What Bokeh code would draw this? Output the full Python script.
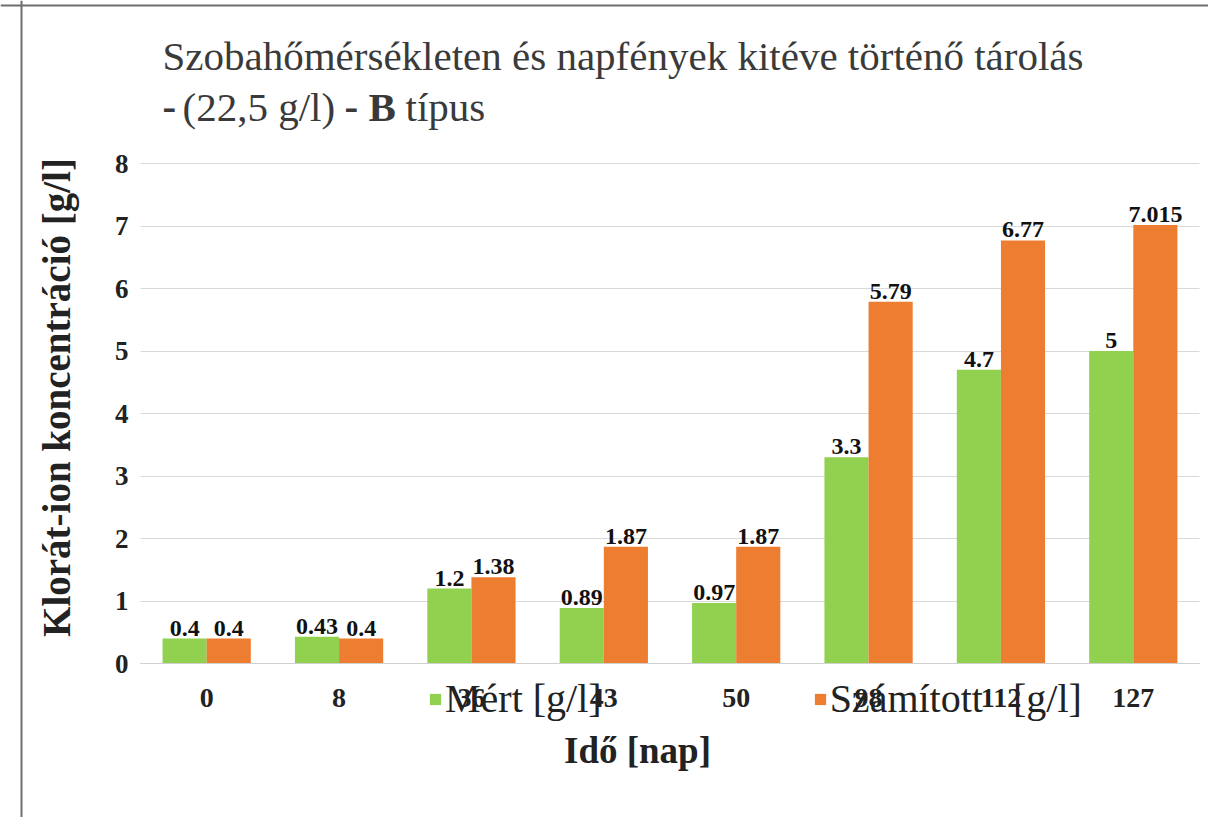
import math
from bokeh.plotting import figure
from bokeh.models import Range1d, ColumnDataSource, Label, Legend, LegendItem, FixedTicker, Span
from bokeh.transform import dodge
from bokeh.embed import file_html
from bokeh.resources import INLINE
from bokeh.core.properties import value

# ---- data ----
days = ["0", "8", "36", "43", "50", "98", "112", "127"]
mert = [0.4, 0.43, 1.2, 0.89, 0.97, 3.3, 4.7, 5.0]
szamitott = [0.4, 0.4, 1.38, 1.87, 1.87, 5.79, 6.77, 7.015]
mert_labels = ["0.4", "0.43", "1.2", "0.89", "0.97", "3.3", "4.7", "5"]
szamitott_labels = ["0.4", "0.4", "1.38", "1.87", "1.87", "5.79", "6.77", "7.015"]
y_ticks = [0, 1, 2, 3, 4, 5, 6, 7, 8]

title_line1 = "Szobahőmérsékleten és napfények kitéve történő tárolás"
series_names = ["Mért [g/l]", "Számított   [g/l]"]
x_title = "Idő [nap]"
y_title = "Klorát-ion koncentráció [g/l]"

GREEN = "#92D050"
ORANGE = "#ED7D31"
SERIF = "Liberation Serif"
TXT = "#222222"

# ---- layout geometry (picture pixels) ----
W, H = 1208, 817
OFF = 0                          # canvas origin in the picture
PLOT_L, PLOT_R = 140, 1199       # left edge of first / right edge of last category
Y0_PAGE, Y8_PAGE = 663, 163      # picture y of value 0 and value 8
n = len(days)
px_x = (PLOT_R - PLOT_L) / n
px_y = (Y0_PAGE - Y8_PAGE) / 8
x_lo = -0.5 - (PLOT_L - OFF) / px_x
x_hi = (n - 0.5) + (OFF + W - PLOT_R) / px_x
y_hi = (Y0_PAGE - OFF) / px_y
y_lo = (Y0_PAGE - (OFF + H)) / px_y

def sx(page_x):
    return page_x - OFF

def sy(page_y):
    return (OFF + H) - page_y

idx = list(range(n))
src = ColumnDataSource(dict(idx=idx, mert=mert, szam=szamitott,
                            mert_lbl=mert_labels, szam_lbl=szamitott_labels))

p = figure(width=W, height=H,
           x_range=Range1d(x_lo, x_hi), y_range=Range1d(y_lo, y_hi),
           output_backend="svg", toolbar_location=None,
           min_border_left=0, min_border_right=0,
           min_border_top=0, min_border_bottom=0)
p.outline_line_color = None
p.background_fill_color = "white"
p.border_fill_color = "white"

# horizontal grid lines, limited to the category area
p.xgrid.grid_line_color = None
p.ygrid.ticker = FixedTicker(ticks=y_ticks)
p.ygrid.grid_line_color = "#d9d9d9"
try:
    p.ygrid.cross_bounds = (-0.5, n - 0.5)
except AttributeError:
    p.ygrid.grid_line_color = None
    p.segment(x0=[-0.5] * len(y_ticks), x1=[n - 0.5] * len(y_ticks),
              y0=y_ticks, y1=y_ticks, line_color="#d9d9d9", line_width=1)

r1 = p.vbar(x=dodge("idx", -1/6), top="mert", width=1/3,
            source=src, fill_color=GREEN, line_color=None)
r2 = p.vbar(x=dodge("idx", 1/6), top="szam", width=1/3,
            source=src, fill_color=ORANGE, line_color=None)

for col, lbl, off in [("mert", "mert_lbl", -1/6), ("szam", "szam_lbl", 1/6)]:
    p.text(x=dodge("idx", off), y=col, text=lbl, source=src,
           y_offset=-3, text_align="center", text_baseline="bottom",
           text_font=value(SERIF), text_font_style="bold",
           text_font_size="24px", text_color="#111111")

# y axis, pinned to the left edge of the category area
p.yaxis.fixed_location = -0.5
p.yaxis.ticker = FixedTicker(ticks=y_ticks)
p.yaxis.bounds = (0, 8)
p.yaxis.axis_line_color = None
p.yaxis.major_tick_line_color = None
p.yaxis.minor_tick_line_color = None
p.yaxis.major_label_standoff = 6
p.yaxis.major_label_text_font = SERIF
p.yaxis.major_label_text_font_style = "bold"
p.yaxis.major_label_text_font_size = "27px"
p.yaxis.major_label_text_color = TXT

# x axis, pinned to y = 0
p.xaxis.fixed_location = 0
p.xaxis.ticker = FixedTicker(ticks=idx)
p.xaxis.major_label_overrides = {i: d for i, d in zip(idx, days)}
p.xaxis.bounds = (-0.5, n - 0.5)
p.xaxis.axis_line_color = "#d0d0d0"
p.xaxis.axis_line_width = 1
p.xaxis.major_tick_line_color = None
p.xaxis.minor_tick_line_color = None
p.xaxis.major_label_standoff = 19
p.xaxis.major_label_text_font = SERIF
p.xaxis.major_label_text_font_style = "bold"
p.xaxis.major_label_text_font_size = "28px"
p.xaxis.major_label_text_color = TXT

# axis titles
p.add_layout(Label(x=sx(637), y=sy(750), x_units="screen", y_units="screen",
                   text=x_title, text_font=SERIF, text_font_size="37px",
                   text_font_style="bold", text_color=TXT,
                   text_align="center", text_baseline="middle"))
p.add_layout(Label(x=sx(56), y=sy(397), x_units="screen", y_units="screen",
                   text=y_title, text_font=SERIF, text_font_size="39px",
                   text_font_style="bold", text_color=TXT, angle=math.pi / 2,
                   text_align="center", text_baseline="middle"))

# legend, overlapping the tick labels as in the original
legend = Legend(items=[LegendItem(label=series_names[0], renderers=[r1]),
                       LegendItem(label=series_names[1], renderers=[r2])],
                orientation="horizontal",
                location=(sx(428), sy(722)),
                glyph_width=14, glyph_height=14, label_standoff=3, spacing=211,
                padding=0, margin=0, border_line_color=None,
                background_fill_alpha=0, label_height=40,
                label_text_font=SERIF, label_text_font_size="40px",
                label_text_color=TXT)
p.add_layout(legend)

# title (two lines, mixed weight)
TITLE_COL = "#3a3a3a"
def tlabel(txt, page_x, baseline_page_y, bold=False):
    p.add_layout(Label(x=sx(page_x), y=sy(baseline_page_y), x_units="screen", y_units="screen",
                       text=txt, text_font=SERIF, text_font_size="41px",
                       text_font_style="bold" if bold else "normal",
                       text_color=TITLE_COL, text_baseline="alphabetic",
                       text_align="left"))

tlabel(title_line1, 162, 55)
tlabel("-", 162, 106, bold=True)
tlabel("(22,5 g/l)", 182, 106)
tlabel("-", 344, 106, bold=True)
tlabel("B", 368, 106, bold=True)
tlabel("típus", 405, 106)

# chart-area border (left and top edges)
p.add_layout(Span(location=-0.5 - (PLOT_L - 21) / px_x, dimension="height",
                  line_color="#6e6e6e", line_width=2))
p.add_layout(Span(location=(Y0_PAGE - 5) / px_y, dimension="width",
                  line_color="#6e6e6e", line_width=2))

open("out.html", "w").write(file_html(p, INLINE))
